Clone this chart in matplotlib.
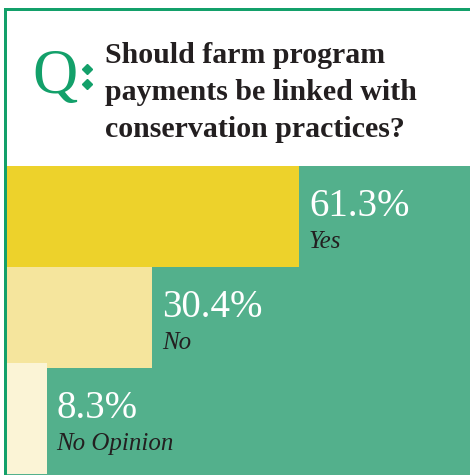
import numpy as np
import matplotlib
matplotlib.use("Agg")
import matplotlib.pyplot as plt
from matplotlib.patches import Rectangle
from matplotlib.lines import Line2D

# survey answers
answers = ["Yes", "No", "No Opinion"]
shares = [61.3, 30.4, 8.3]
question = ["Should farm program", "payments be linked with", "conservation practices?"]

bar_colors = ["#edd22b", "#f5e59d", "#fbf4d6"]
panel_green = "#53b08c"
dark_green = "#13a06a"
ink = "#231f20"

W, H = 470, 475
fig = plt.figure(figsize=(W / 100, H / 100), dpi=100)
fig.patch.set_facecolor("white")

def fx(px):
    return px / W

def fy(py):
    return 1 - py / H

# bar panel
top = 166
ax = fig.add_axes([fx(7), 0, fx(W - 7), (H - top) / H])
ax.set_facecolor(panel_green)
pos = np.arange(len(answers))
heights = [1, 1, 1.1]
ax.barh(pos, shares, height=heights, color=bar_colors, align="center")
ax.set_xlim(0, 463 / 292 * 61.3)
ax.set_ylim(2.56, -0.5)
ax.set_xticks([])
ax.set_yticks([])
for spine in ax.spines.values():
    spine.set_visible(False)

for i, (a, s) in enumerate(zip(answers, shares)):
    ax.annotate("%.1f%%" % s, (s, i - 0.5 + 0.50), xytext=(10, 0),
                textcoords="offset pixels", ha="left", va="baseline",
                fontsize=28, color="white", family="Liberation Serif")
    ax.annotate(a, (s, i - 0.5 + 0.81), xytext=(10, 0),
                textcoords="offset pixels", ha="left", va="baseline",
                fontsize=18, style="italic", color=ink, family="Liberation Serif")

# green frame lines
fig.add_artist(Rectangle((fx(4), fy(11)), fx(W - 4), 3 / H, transform=fig.transFigure,
                         color=dark_green, lw=0))
fig.add_artist(Rectangle((fx(4), 0), 3 / W, fy(8), transform=fig.transFigure,
                         color=dark_green, lw=0))

# Q: heading
fig.text(fx(32), fy(93), "Q", fontsize=45, color=dark_green, family="Liberation Serif",
         ha="left", va="baseline")
fig.add_artist(Line2D([fx(87), fx(87)], [fy(69), fy(84)], transform=fig.transFigure,
                      ls="none", marker="D", ms=5, color=dark_green))

for k, line in enumerate(question):
    fig.text(fx(105), fy(63 + 37 * k), line, fontsize=21.5, weight="bold", color=ink,
             family="Liberation Serif", ha="left", va="baseline")

fig.savefig("out.png", dpi=100, facecolor=fig.get_facecolor())
